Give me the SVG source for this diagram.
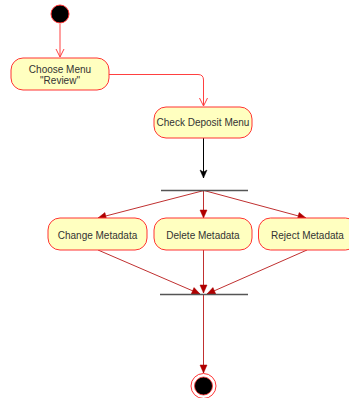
<svg xmlns="http://www.w3.org/2000/svg" width="349" height="398" viewBox="0 0 349 398">
<style>
.node rect{fill:#FFFFC0;stroke:#FF3333;stroke-width:1}
.node text{font-family:"Liberation Sans",Arial,sans-serif;font-size:10px;fill:#333;text-anchor:middle}
.lr{stroke:#FF4040;fill:none;stroke-width:1}
.dr{stroke:#C03030;fill:none;stroke-width:1}
.bk{stroke:#000;fill:none;stroke-width:1}
.bar{stroke:#555;stroke-width:1.3}
</style>
<defs>
<marker id="open" markerWidth="10" markerHeight="10" refX="9" refY="5" orient="auto" markerUnits="userSpaceOnUse">
<path d="M1,1 L9,5 L1,9" fill="none" stroke="#FF4040" stroke-width="1"/>
</marker>
<marker id="fillRed" markerWidth="10" markerHeight="10" refX="9" refY="5" orient="auto" markerUnits="userSpaceOnUse">
<path d="M1,1.5 L9,5 L1,8.5 Z" fill="#B00000" stroke="#B00000" stroke-width="0.5"/>
</marker>
<marker id="fillBlack" markerWidth="10" markerHeight="10" refX="9" refY="5" orient="auto" markerUnits="userSpaceOnUse">
<path d="M1,1.5 L9,5 L1,8.5 L3,5 Z" fill="#000" stroke="#000" stroke-width="0.5"/>
</marker>
</defs>
<g id="connectors">
<line class="lr" x1="60" y1="24" x2="60" y2="57" marker-end="url(#open)"/>
<path class="lr" d="M109,74.5 H198 Q203.5,74.5 203.5,80 V106" marker-end="url(#open)"/>
<line class="bk" x1="203.5" y1="138" x2="203.5" y2="178" marker-end="url(#fillBlack)"/>
<line class="dr" x1="204" y1="190.5" x2="98" y2="218" marker-end="url(#fillRed)"/>
<line class="dr" x1="203.5" y1="190.5" x2="203.5" y2="218" marker-end="url(#fillRed)"/>
<line class="dr" x1="204" y1="190.5" x2="306" y2="218" marker-end="url(#fillRed)"/>
<line class="dr" x1="98" y1="250" x2="200" y2="294" marker-end="url(#fillRed)"/>
<line class="dr" x1="203.5" y1="250" x2="203.5" y2="293" marker-end="url(#fillRed)"/>
<line class="dr" x1="307" y1="250" x2="207" y2="294" marker-end="url(#fillRed)"/>
<line class="dr" x1="203.5" y1="295" x2="203.5" y2="373" marker-end="url(#fillRed)"/>
</g>
<g id="start"><circle cx="60" cy="14" r="9" fill="#000" stroke="#FF3333" stroke-width="1"/></g>
<g id="choose" class="node"><rect x="11" y="58" width="98" height="32" rx="12"/><text x="60" y="73">Choose Menu</text><text x="60" y="83.5">"Review"</text></g>
<g id="check" class="node"><rect x="154" y="107" width="98" height="31" rx="12"/><text x="203" y="126">Check Deposit Menu</text></g>
<g id="fork"><line class="bar" x1="161" y1="190.5" x2="248" y2="190.5"/></g>
<g id="change" class="node"><rect x="48" y="218" width="99" height="32" rx="12"/><text x="97.5" y="238.5">Change Metadata</text></g>
<g id="delete" class="node"><rect x="154" y="218" width="98" height="32" rx="12"/><text x="203" y="238.5">Delete Metadata</text></g>
<g id="reject" class="node"><rect x="258.5" y="218" width="99" height="32" rx="12"/><text x="307.5" y="238.5">Reject Metadata</text></g>
<g id="join"><line class="bar" x1="160" y1="294.5" x2="248" y2="294.5"/></g>
<g id="end"><circle cx="203.5" cy="386" r="12.5" fill="none" stroke="#FF3333" stroke-width="1"/><circle cx="203.5" cy="386" r="9" fill="#000" stroke="#FF3333" stroke-width="0.8"/></g>
</svg>
